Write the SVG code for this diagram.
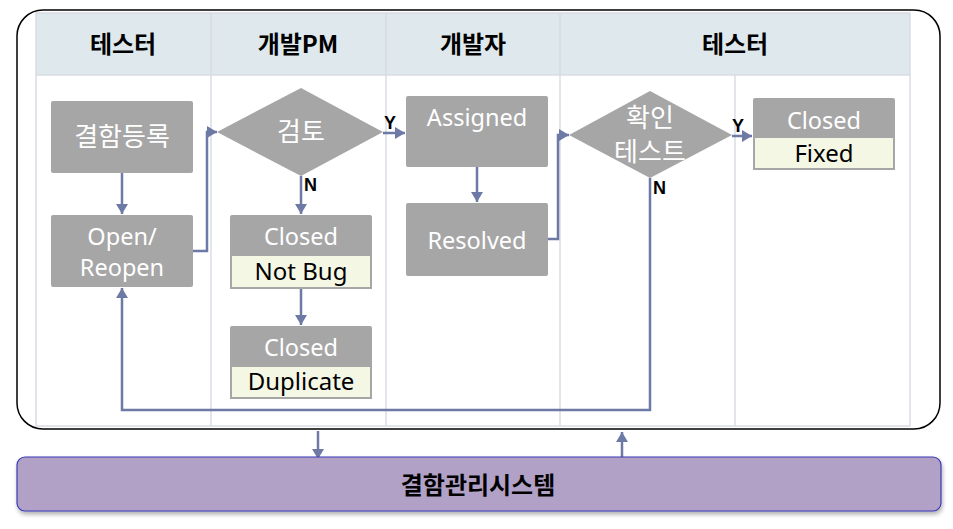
<svg xmlns="http://www.w3.org/2000/svg" width="953" height="529" viewBox="0 0 953 529">
<defs>
<marker id="arr" markerWidth="12" markerHeight="14" refX="10" refY="7" orient="auto" markerUnits="userSpaceOnUse">
<path d="M0,1 L10,7 L0,13 Z" fill="#6E7AA6"/>
</marker>
<filter id="sh" x="-5%" y="-20%" width="110%" height="150%">
<feDropShadow dx="1" dy="3" stdDeviation="2" flood-color="#000" flood-opacity="0.3"/>
</filter>
<style>
.hdr{font-family:"Noto Sans CJK KR","Noto Sans",sans-serif;font-weight:bold;font-size:24px;fill:#000;text-anchor:middle}
.ntx{font-family:"Noto Sans","Noto Sans CJK KR",sans-serif;font-size:23.5px;fill:#fff;text-anchor:middle}
.ktx{font-family:"Noto Sans CJK KR",sans-serif;font-size:26px;fill:#fff;text-anchor:middle}
.btx{font-family:"Noto Sans","Noto Sans CJK KR",sans-serif;font-size:24px;fill:#000;text-anchor:middle}
.lbl{font-family:"Liberation Sans",Arial,sans-serif;font-weight:bold;font-size:18px;fill:#000}
.box{fill:#A6A6A6}
.sub{fill:#F5F7E5;stroke:#A6A6A6;stroke-width:2}
.grid{stroke:#D9DCE3;stroke-width:1.5;fill:none}
.con{fill:none;stroke:#6E7AA6;stroke-width:2.5}
</style>
</defs>
<rect x="0" y="0" width="953" height="529" fill="#fff"/>
<!-- outer frame -->
<rect x="17" y="10" width="923" height="419" rx="26" ry="26" fill="#fff" stroke="#000" stroke-width="1.5"/>
<!-- swimlane table -->
<g id="lanes">
<rect x="36" y="13" width="874" height="62" fill="#DEE8ED"/>
<rect x="36" y="13" width="874" height="413" class="grid"/>
<line x1="36" y1="75" x2="910" y2="75" class="grid"/>
<line x1="211" y1="13" x2="211" y2="426" class="grid"/>
<line x1="386" y1="13" x2="386" y2="426" class="grid"/>
<line x1="560" y1="13" x2="560" y2="426" class="grid"/>
<line x1="735" y1="75" x2="735" y2="426" class="grid"/>
<text class="hdr" x="123" y="53">테스터</text>
<text class="hdr" x="298" y="53">개발PM</text>
<text class="hdr" x="473" y="53">개발자</text>
<text class="hdr" x="735" y="53">테스터</text>
</g>
<g id="connectors">
<line class="con" x1="122" y1="173" x2="122" y2="214" marker-end="url(#arr)"/>
<polyline class="con" points="193,251 207,251 207,132 217,132" marker-end="url(#arr)"/>
<line class="con" x1="383" y1="133" x2="405" y2="133" marker-end="url(#arr)"/>
<line class="con" x1="301" y1="176" x2="301" y2="214" marker-end="url(#arr)"/>
<line class="con" x1="301" y1="288" x2="301" y2="325" marker-end="url(#arr)"/>
<line class="con" x1="477" y1="167" x2="477" y2="202" marker-end="url(#arr)"/>
<polyline class="con" points="548,239 558,239 558,135 569,135" marker-end="url(#arr)"/>
<line class="con" x1="732" y1="136" x2="752" y2="136" marker-end="url(#arr)"/>
<polyline class="con" points="650,178 650,410 122,410 122,288" marker-end="url(#arr)"/>
<line class="con" x1="318" y1="431" x2="318" y2="459" marker-end="url(#arr)"/>
<line class="con" x1="622" y1="459" x2="622" y2="432" marker-end="url(#arr)"/>
<text class="lbl" x="384" y="129">Y</text>
<text class="lbl" x="304" y="191">N</text>
<text class="lbl" x="732" y="132">Y</text>
<text class="lbl" x="653" y="194">N</text>
</g>
<g id="n_register">
<rect class="box" x="51" y="101" width="142" height="72" rx="2"/>
<text class="ktx" x="122" y="146">결함등록</text>
</g>
<g id="n_open">
<rect class="box" x="51" y="215" width="142" height="72" rx="2"/>
<text class="ntx" x="122" y="245">Open/</text>
<text class="ntx" x="122" y="276">Reopen</text>
</g>
<g id="n_review">
<polygon class="box" points="217,132 301,88 383,132 301,176"/>
<text class="ktx" x="301" y="141">검토</text>
</g>
<g id="n_notbug">
<rect class="box" x="230" y="215" width="142" height="73" rx="2"/>
<rect class="sub" x="231" y="255" width="140" height="33"/>
<text class="ntx" x="301" y="245">Closed</text>
<text class="btx" x="301" y="280">Not Bug</text>
</g>
<g id="n_duplicate">
<rect class="box" x="230" y="326" width="142" height="72" rx="2"/>
<rect class="sub" x="231" y="366" width="140" height="32"/>
<text class="ntx" x="301" y="356">Closed</text>
<text class="btx" x="301" y="390">Duplicate</text>
</g>
<g id="n_assigned">
<rect class="box" x="406" y="96" width="142" height="71" rx="2"/>
<text class="ntx" x="477" y="126">Assigned</text>
</g>
<g id="n_resolved">
<rect class="box" x="406" y="203" width="142" height="73" rx="2"/>
<text class="ntx" x="477" y="249">Resolved</text>
</g>
<g id="n_verify">
<polygon class="box" points="569,135 650,91 732,135 650,178"/>
<text class="ktx" x="650" y="127" font-size="22.5">확인</text>
<text class="ktx" x="650" y="161" font-size="22.5">테스트</text>
</g>
<g id="n_fixed">
<rect class="box" x="753" y="98" width="142" height="71" rx="2"/>
<rect class="sub" x="754" y="137" width="140" height="32"/>
<text class="ntx" x="824" y="129">Closed</text>
<text class="btx" x="824" y="162">Fixed</text>
</g>
<g id="n_system">
<rect x="17" y="457" width="924" height="54" rx="8" fill="#B1A1C7" stroke="#3B3BB5" stroke-width="1.2" filter="url(#sh)"/>
<text class="hdr" x="478" y="494" font-size="26">결함관리시스템</text>
</g>
</svg>
